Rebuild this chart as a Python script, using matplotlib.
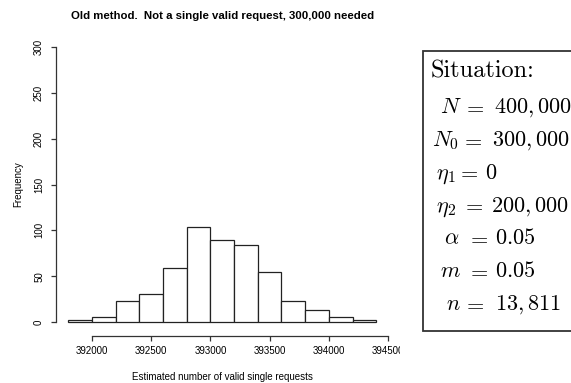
import matplotlib
matplotlib.use("Agg")
from matplotlib import pyplot as plt
from matplotlib.patches import Rectangle

# histogram data (bin edges every 200)
bin_edges = [391800, 392000, 392200, 392400, 392600, 392800, 393000,
             393200, 393400, 393600, 393800, 394000, 394200, 394400]
counts = [2, 6, 23, 31, 59, 104, 90, 84, 55, 23, 13, 6, 2]
xticks = [392000, 392500, 393000, 393500, 394000, 394500]
yticks = [0, 50, 100, 150, 200, 250, 300]

situation_lhs = [r"$N$", r"$N_0$", r"$\eta_1$", r"$\eta_2$", r"$\alpha$", r"$m$", r"$n$"]
situation_rhs = [r"$400,000$", r"$300,000$", r"$0$", r"$200,000$", r"$0.05$", r"$0.05$", r"$13,811$"]

# pixel positions of each part of the lines in the box
lhs_left_px = [440, 432, 436, 436, 444, 440, 446]
eq_left_px = [463, 461, 457, 462, 467, 467, 463]
rhs_left_px = [494, 492, 485, 491, 495, 495, 495]

plt.rcParams['font.family'] = ['Liberation Sans', 'DejaVu Sans']
plt.rcParams['mathtext.fontset'] = 'cm'

W, H = 571, 383
fig = plt.figure(figsize=(W / 100, H / 100), dpi=100)
ax = fig.add_axes([56 / W, 1 - 333 / H, (388.5 - 56) / W, (333 - 36) / H])

widths = [bin_edges[i + 1] - bin_edges[i] for i in range(len(counts))]
ax.bar(bin_edges[:-1], counts, width=widths, align='edge',
       facecolor='white', edgecolor='#222222', linewidth=0.9)

ax.set_xlim(391696, 394504)
ax.set_ylim(-12, 312)
for s in ['top', 'right']:
    ax.spines[s].set_visible(False)
ax.spines['left'].set_bounds(0, 300)
ax.spines['bottom'].set_bounds(392000, 394500)
ax.spines['bottom'].set_position(('outward', 2))
for s in ['left', 'bottom']:
    ax.spines[s].set_color('#333333')
    ax.spines[s].set_linewidth(0.9)

ax.set_xticks(xticks)
ax.set_xticklabels([str(t) for t in xticks], fontsize=7)
ax.set_yticks(yticks)
ax.set_yticklabels([str(t) for t in yticks], fontsize=7, rotation=90, va='center')
ax.tick_params(length=3.6, width=0.9, color='#333333', pad=4)
ax.tick_params(axis='y', pad=5)

ax.set_xlabel("Estimated number of valid single requests", fontsize=7, labelpad=11)
ax.set_ylabel("Frequency", fontsize=7, labelpad=8)
ax.set_title("Old method.  Not a single valid request, 300,000 needed",
             fontsize=8.2, fontweight='bold', pad=12)

# white panel clipping the right side, then the text box
fig.patches.append(Rectangle((400 / W, 0), 1, 1, transform=fig.transFigure,
                             facecolor='white', edgecolor='none', zorder=5))
fig.patches.append(Rectangle((423 / W, 1 - 331 / H), 1, (331 - 51) / H,
                             transform=fig.transFigure, facecolor='white',
                             edgecolor='#333333', linewidth=1.3, zorder=6))

fig.text(431 / W, 1 - 77 / H, "Situation:", fontsize=17.5, family='cmr10',
         va='baseline', ha='left', zorder=7)

for i in range(len(situation_lhs)):
    y = 1 - (113 + 32.8 * i) / H
    fig.text(lhs_left_px[i] / W, y, situation_lhs[i], fontsize=16,
             va='baseline', ha='left', zorder=7)
    fig.text(eq_left_px[i] / W, y, r"$=$", fontsize=16,
             va='baseline', ha='left', zorder=7)
    fig.text(rhs_left_px[i] / W, y, situation_rhs[i], fontsize=16,
             va='baseline', ha='left', zorder=7)

fig.savefig("out.png", dpi=100)
